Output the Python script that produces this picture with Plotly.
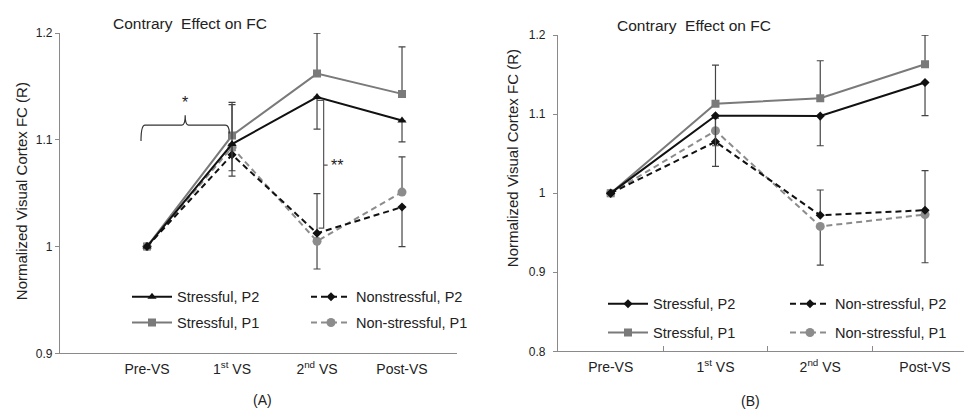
import plotly.graph_objects as go

NAN = float("nan")

categories = ["Pre-VS", "1<sup>st</sup> VS", "2<sup>nd</sup> VS", "Post-VS"]
xpos = [0, 1, 2, 3]

# Panel A values
a_stress_p2 = [1.0, 1.096, 1.140, 1.118]
a_stress_p1 = [1.0, 1.104, 1.162, 1.143]
a_non_p2 = [1.0, 1.086, 1.0125, 1.037]
a_non_p1 = [1.0, 1.093, 1.005, 1.051]
# Panel A error bars (plus / minus)
a_stress_p2_plus = [NAN, 0, 0, 0]
a_stress_p2_minus = [NAN, 0.025, 0.030, 0.020]
a_stress_p1_plus = [NAN, 0.031, 0.038, 0.044]
a_stress_p1_minus = [NAN, 0, 0, 0]
a_non_p2_plus = [NAN, 0.047, 0.037, 0]
a_non_p2_minus = [NAN, 0, 0, 0.037]
a_non_p1_plus = [NAN, 0, 0, 0.033]
a_non_p1_minus = [NAN, 0.027, 0.026, 0]

# Panel B values
b_stress_p2 = [1.0, 1.098, 1.0975, 1.140]
b_stress_p1 = [1.0, 1.113, 1.120, 1.163]
b_non_p2 = [1.0, 1.065, 0.972, 0.9785]
b_non_p1 = [1.0, 1.079, 0.958, 0.973]
b_stress_p2_plus = [NAN, 0, 0, 0]
b_stress_p2_minus = [NAN, 0.038, 0.0375, 0.042]
b_stress_p1_plus = [NAN, 0.049, 0.0475, 0.037]
b_stress_p1_minus = [NAN, 0, 0, 0]
b_non_p2_plus = [NAN, 0.03, 0.032, 0.05]
b_non_p2_minus = [NAN, 0, 0, 0]
b_non_p1_plus = [NAN, 0, 0, 0]
b_non_p1_minus = [NAN, 0.045, 0.049, 0.061]

a_tickvals = [1.2, 1.1, 1.0, 0.9]
a_ticktext = ["1.2", "1.1", "1", "0.9"]
b_tickvals = [1.2, 1.1, 1.0, 0.9, 0.8]
b_ticktext = ["1.2", "1.1", "1", "0.9", "0.8"]

FONT = "Liberation Sans, Arial, sans-serif"
TXT = "#222222"
BLACK = "#111111"
GRAY = "#7a7a7a"
LGRAY = "#8c8c8c"
ERR = "#444444"
AXC = "#8a8a8a"

W = 964
H = 411
# observed vertical mapping of the photographed page: shown_y = 7 + 0.965 * page_y
Y0 = 7.0
YS = 0.965


def px_x(p):
    return p / W


def px_y(p):
    return 1 - ((p - Y0) / YS) / H


def err(plus, minus):
    return dict(type="data", symmetric=False, array=plus, arrayminus=minus,
                color=ERR, thickness=1.2, width=3.5)


fig = go.Figure()


def add_series(name, y, plus, minus, color, dash, symbol, msize, xa, ya, legend, group, rank):
    fig.add_trace(go.Scatter(
        x=xpos, y=y, name=name, mode="lines+markers",
        line=dict(color=color, width=2, dash=dash),
        marker=dict(symbol=symbol, size=msize, color=color),
        error_y=err(plus, minus), xaxis=xa, yaxis=ya,
        legend=legend, legendgroup=group, legendrank=rank,
    ))


# Panel A
add_series("Stressful, P1", a_stress_p1, a_stress_p1_plus, a_stress_p1_minus, GRAY, "solid", "square", 8, "x", "y", "legend", "a1", 2)
add_series("Non-stressful, P1", a_non_p1, a_non_p1_plus, a_non_p1_minus, LGRAY, "6px,4px", "circle", 9, "x", "y", "legend2", "a2", 2)
add_series("Nonstressful, P2", a_non_p2, a_non_p2_plus, a_non_p2_minus, BLACK, "6px,4px", "diamond", 7, "x", "y", "legend2", "a3", 1)
add_series("Stressful, P2", a_stress_p2, a_stress_p2_plus, a_stress_p2_minus, BLACK, "solid", "triangle-up", 8, "x", "y", "legend", "a4", 1)

# Panel B
add_series("Stressful, P1", b_stress_p1, b_stress_p1_plus, b_stress_p1_minus, GRAY, "solid", "square", 8, "x2", "y2", "legend3", "b1", 2)
add_series("Non-stressful, P1", b_non_p1, b_non_p1_plus, b_non_p1_minus, LGRAY, "6px,4px", "circle", 9, "x2", "y2", "legend4", "b2", 2)
add_series("Non-stressful, P2", b_non_p2, b_non_p2_plus, b_non_p2_minus, BLACK, "6px,4px", "diamond", 7, "x2", "y2", "legend4", "b3", 1)
add_series("Stressful, P2", b_stress_p2, b_stress_p2_plus, b_stress_p2_minus, BLACK, "solid", "diamond", 7, "x2", "y2", "legend3", "b4", 1)


axis_common = dict(showgrid=False, zeroline=False, showline=True, linecolor=AXC,
                   linewidth=1.2)


def legend_cfg(xp, yp, gap):
    return dict(x=px_x(xp), y=px_y(yp), xanchor="left", yanchor="top",
                bgcolor="rgba(0,0,0,0)", font=dict(size=14.5, color=TXT, family=FONT),
                traceorder="grouped", tracegroupgap=gap, itemwidth=40)


fig.update_layout(
    width=W, height=H,
    margin=dict(l=0, r=0, t=0, b=0),
    paper_bgcolor="white", plot_bgcolor="white",
    font=dict(family=FONT, color=TXT, size=14),
    xaxis=dict(axis_common, domain=[px_x(60), px_x(457)], range=[-1.024, 3.647],
               tickmode="array", tickvals=xpos, ticktext=categories, ticks="",
               tickfont=dict(size=14, color=TXT, family=FONT),
               anchor="y", ticklabelstandoff=3),
    yaxis=dict(axis_common, domain=[px_y(353), px_y(33)], range=[0.9, 1.2],
               tickmode="array", tickvals=a_tickvals, ticktext=a_ticktext,
               tickfont=dict(size=12, color=TXT, family=FONT),
               ticks="outside", ticklen=4, tickcolor=AXC, anchor="x",
               ticklabelstandoff=0),
    xaxis2=dict(axis_common, domain=[px_x(558), 1.0], range=[-0.503, 3.372],
                tickmode="array", tickvals=xpos, ticktext=categories, ticks="",
                tickfont=dict(size=14, color=TXT, family=FONT),
                minor=dict(tickvals=[0.5, 1.5, 2.5], ticks="inside", ticklen=5,
                           tickcolor=AXC),
                anchor="y2", ticklabelstandoff=3),
    yaxis2=dict(axis_common, domain=[px_y(351), px_y(35)], range=[0.8, 1.2],
                tickmode="array", tickvals=b_tickvals, ticktext=b_ticktext,
                tickfont=dict(size=12, color=TXT, family=FONT),
                ticks="outside", ticklen=4, tickcolor=AXC, anchor="x2",
                ticklabelstandoff=5),
    legend=legend_cfg(127, 280.5, 4),
    legend2=legend_cfg(306, 280.5, 4),
    legend3=legend_cfg(603, 287.5, 7),
    legend4=legend_cfg(785, 287.5, 7),
)

# Curly brace with star (panel A)
fig.add_shape(type="path", xref="x", yref="y",
              path="M -0.071,1.0988 Q -0.071,1.1138 -0.024,1.1138 L 0.41,1.1138 "
                   "Q 0.449,1.1138 0.449,1.1231 Q 0.449,1.1138 0.488,1.1138 "
                   "L 0.921,1.1138 Q 0.968,1.1138 0.968,1.106",
              line=dict(color="#333333", width=1.2))
fig.add_annotation(x=0.449, y=1.135, xref="x", yref="y", text="*", showarrow=False,
                   xanchor="center", yanchor="middle", font=dict(size=16, color=TXT))

# ** bracket (panel A)
fig.add_shape(type="path", xref="x", yref="y",
              path="M 2.0,1.137 L 2.078,1.137 L 2.078,1.0172 L 2.019,1.0172",
              line=dict(color="#555555", width=1.2))
fig.add_shape(type="line", xref="x", yref="y", x0=2.078, x1=2.125, y0=1.0763, y1=1.0763,
              line=dict(color="#555555", width=1.2))
fig.add_annotation(x=2.14, y=1.0763, xref="x", yref="y", text="**", showarrow=False,
                   xanchor="left", yanchor="middle", font=dict(size=16, color=TXT))

# Titles and labels
for xp, yp, txt in [(190, 23, "Contrary  Effect on FC"), (694, 25, "Contrary  Effect on FC")]:
    fig.add_annotation(x=px_x(xp), y=px_y(yp), xref="paper", yref="paper", text=txt,
                       xanchor="center", yanchor="middle",
                       showarrow=False, font=dict(size=15.5, color=TXT))
for xp, yp in [(21, 191), (512, 158)]:
    fig.add_annotation(x=px_x(xp), y=px_y(yp), xref="paper", yref="paper",
                       text="Normalized Visual Cortex FC (R)", textangle=-90,
                       xanchor="center", yanchor="middle",
                       showarrow=False, font=dict(size=15, color=TXT))
for xp, yp, txt in [(262, 400, "(A)"), (750, 401, "(B)")]:
    fig.add_annotation(x=px_x(xp), y=px_y(yp), xref="paper", yref="paper", text=txt,
                       xanchor="center", yanchor="middle",
                       showarrow=False, font=dict(size=14, color=TXT))

fig.write_html(
    "out.html",
    config={"displayModeBar": False},
    post_script=(
        "document.documentElement.style.margin='0';"
        "document.documentElement.style.overflow='hidden';"
        "document.body.style.margin='0';"
        "document.body.style.padding='0';"
        "document.body.style.overflow='hidden';"
    ),
)
